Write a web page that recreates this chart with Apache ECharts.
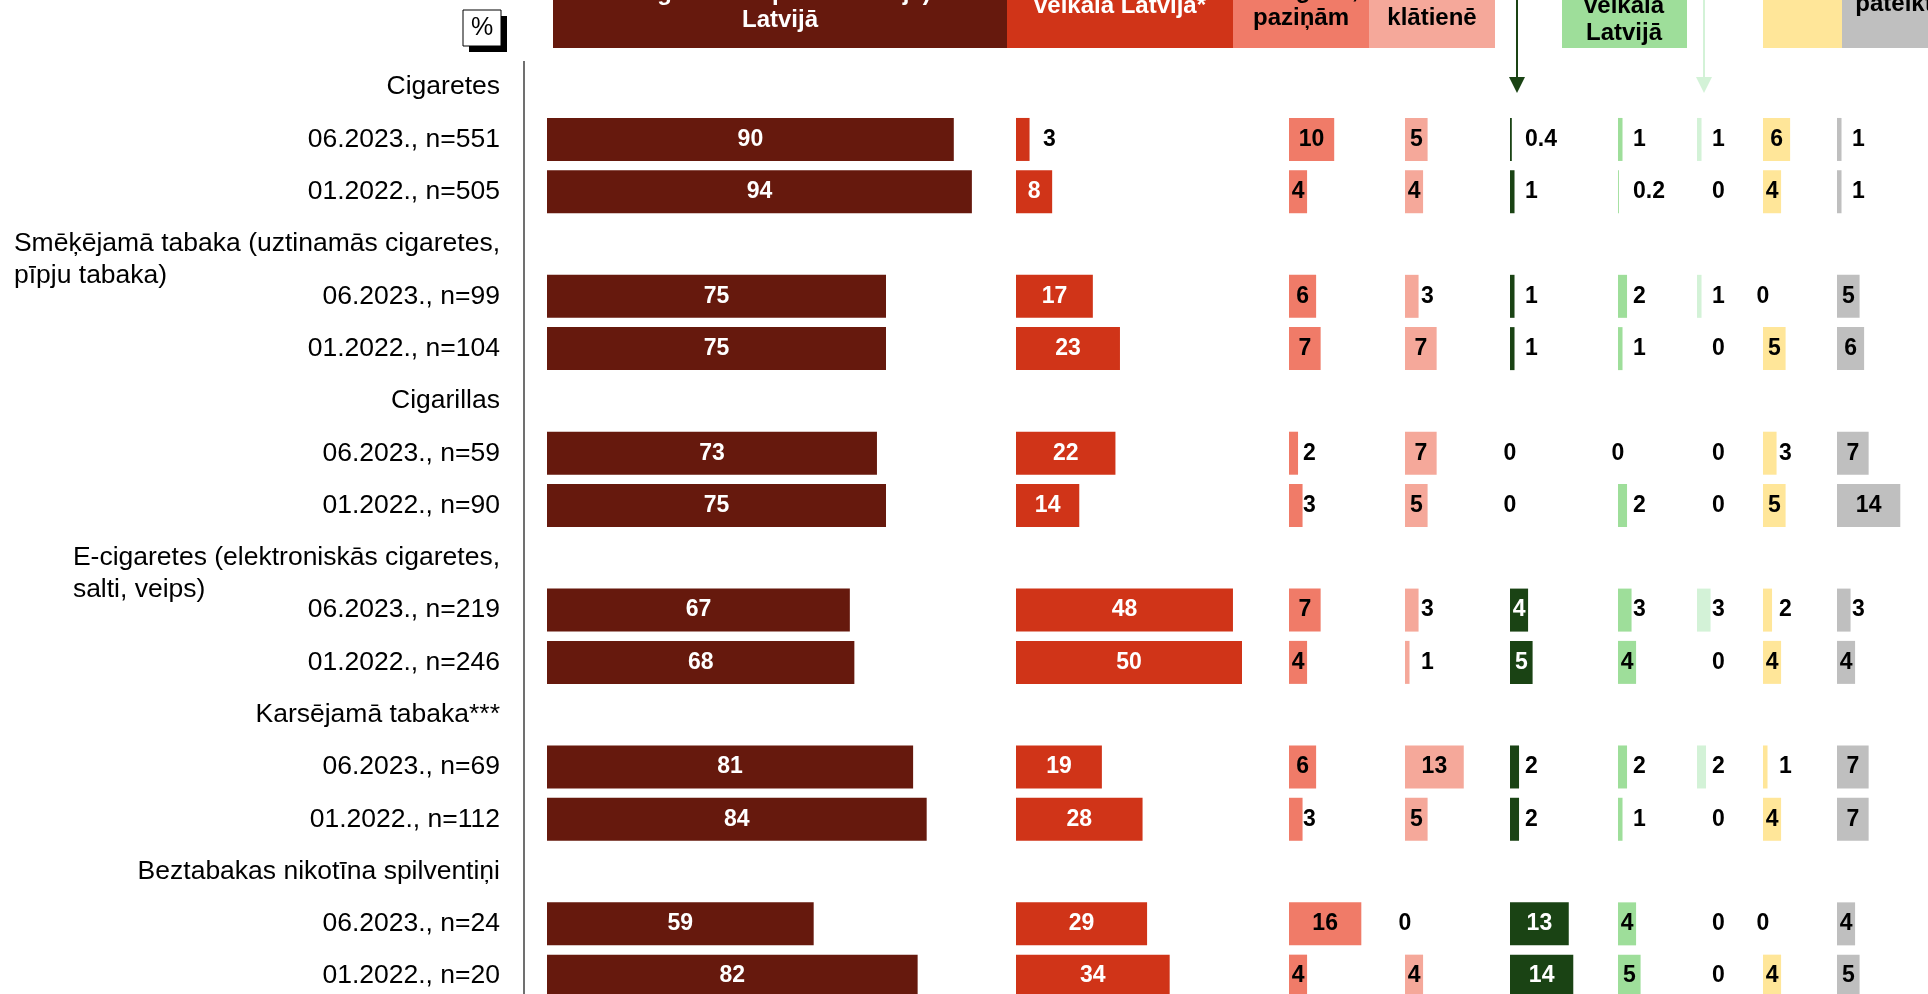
<!DOCTYPE html>
<html>
<head>
<meta charset="utf-8">
<script src="https://cdn.jsdelivr.net/npm/echarts@6/dist/echarts.min.js"></script>
<style>html,body{margin:0;padding:0;background:#fff;overflow:hidden}#c{width:1928px;height:1020px}</style>
</head>
<body>
<div id="c"></div>
<script>
// ---------- data ----------
const groups = [
  "Cigaretes",
  "Smēķējamā tabaka (uztinamās cigaretes,\npīpju tabaka)",
  "Cigarillas",
  "E-cigaretes (elektroniskās cigaretes,\nsalti, veips)",
  "Karsējamā tabaka***",
  "Beztabakas nikotīna spilventiņi"
];
const waves = [
  ["06.2023., n=551", "01.2022., n=505"],
  ["06.2023., n=99", "01.2022., n=104"],
  ["06.2023., n=59", "01.2022., n=90"],
  ["06.2023., n=219", "01.2022., n=246"],
  ["06.2023., n=69", "01.2022., n=112"],
  ["06.2023., n=24", "01.2022., n=20"]
];
const c1 = [90, 94, 75, 75, 73, 75, 67, 68, 81, 84, 59, 82];
const c2 = [3, 8, 17, 23, 22, 14, 48, 50, 19, 28, 29, 34];
const c3 = [10, 4, 6, 7, 2, 3, 7, 4, 6, 3, 16, 4];
const c4 = [5, 4, 3, 7, 7, 5, 3, 1, 13, 5, 0, 4];
const c5 = [0.4, 1, 1, 1, 0, 0, 4, 5, 2, 2, 13, 14];
const c6 = [1, 0.2, 2, 1, 0, 2, 3, 4, 2, 1, 4, 5];
const c7 = [1, 0, 1, 0, 0, 0, 3, 0, 2, 0, 0, 0];
const c8 = [6, 4, 0, 5, 3, 5, 2, 4, 1, 4, 0, 4];
const c9 = [1, 1, 5, 6, 7, 14, 3, 4, 7, 7, 4, 5];
const columns = [c1, c2, c3, c4, c5, c6, c7, c8, c9];

// ---------- layout / style ----------
const FONT = '"Liberation Sans", Arial, sans-serif';
const PX = 4.52;                 // pixels per percentage point
const colX = [547, 1016, 1289, 1405, 1510, 1618, 1697, 1763, 1837];
const colW = [469, 273, 116, 105, 108, 79, 66, 74, 91];
const colColor = ['#66190D', '#D03418', '#F07B68', '#F5A89A', '#1A4314', '#9EDE9A', '#D3F2D7', '#FFE699', '#BFBFBF'];
const insideColor = ['#fff', '#fff', '#000', '#000', '#fff', '#000', '#000', '#000', '#000'];
const outsideOffset = [27, 27, 14, 16, 15, 15, 15, 16, 15];
const zeroCentered = [true, true, true, true, true, true, false, true, true];
const GRID_TOP = 61, GRID_H = 941.3;

const cats = [];
groups.forEach((g, i) => { cats.push(g); cats.push(waves[i][0]); cats.push(waves[i][1]); });
const isHeader = cats.map((c, i) => i % 3 === 0);

function labelFor(ci, v) {
  const base = { show: true, fontFamily: FONT, fontWeight: 'bold', fontSize: 23 };
  if (v >= 4 || (v === 0 && zeroCentered[ci])) {
    return Object.assign(base, { position: 'inside', color: v === 0 ? '#000' : insideColor[ci] });
  }
  return Object.assign(base, { position: [outsideOffset[ci], '50%'], align: 'left', verticalAlign: 'middle', color: '#000' });
}

const grids = [], xAxes = [], yAxes = [], series = [];
columns.forEach((col, ci) => {
  grids.push({ left: colX[ci], top: GRID_TOP, width: colW[ci], height: GRID_H, containLabel: false });
  xAxes.push({ type: 'value', gridIndex: ci, min: 0, max: colW[ci] / PX, show: false });
  const y = { type: 'category', gridIndex: ci, data: cats, inverse: true, show: ci === 0 };
  if (ci === 0) {
    Object.assign(y, {
      axisLine: { show: false },
      axisTick: { show: false },
      splitLine: { show: false },
      axisLabel: {
        margin: 47, fontFamily: FONT, fontSize: 26.5, color: '#000', lineHeight: 32, align: 'right',
        formatter: (v) => v.indexOf('\n') >= 0
          ? '\n' + v.split('\n').map(s => '{g|' + s + '}').join('\n')
          : v,
        rich: { g: { align: 'left', fontFamily: FONT, fontSize: 26.5, color: '#000', lineHeight: 32 } }
      }
    });
  }
  yAxes.push(y);
  let k = 0;
  const data = cats.map((c, ri) => {
    if (isHeader[ri]) return '-';
    const v = col[k++];
    return { value: v, label: labelFor(ci, v) };
  });
  series.push({
    type: 'bar', xAxisIndex: ci, yAxisIndex: ci, barWidth: 43, data: data,
    itemStyle: { color: colColor[ci] }, silent: true
  });
});

// ---------- header decorations ----------
const hdr = (x, y, text, color) => ({
  type: 'text', x: x, y: y, silent: true,
  style: { text: text, fill: color, font: 'bold 24px ' + FONT, align: 'center', verticalAlign: 'middle', lineHeight: 27 }
});
const box = (x, w, color) => ({ type: 'rect', shape: { x: x, y: -60, width: w, height: 108 }, style: { fill: color }, silent: true });
const arrow = (x, color) => ([
  { type: 'line', shape: { x1: x, y1: 0, x2: x, y2: 80 }, style: { stroke: color, lineWidth: 2 }, silent: true },
  { type: 'polygon', shape: { points: [[x - 8, 77], [x + 8, 77], [x, 93]] }, style: { fill: color }, silent: true }
]);

const graphic = [
  box(553, 454, colColor[0]), box(1007, 226, colColor[1]), box(1233, 136, colColor[2]), box(1369, 126, colColor[3]),
  box(1562, 125, colColor[5]), box(1763, 79, colColor[7]), box(1842, 150, colColor[8]),
  hdr(780, 6.5, 'degvielas uzpildes stacijā)\nLatvijā', '#fff'),
  hdr(1120, 6, 'veikalā Latvijā*', '#fff'),
  hdr(1301, 4.5, 'draugiem,\npaziņām', '#000'),
  hdr(1432, 18, 'klātienē', '#000'),
  hdr(1624, 19.5, 'veikalā\nLatvijā', '#000'),
  hdr(1894, 4, 'pateikt', '#000'),
  ...arrow(1517, colColor[4]),
  ...arrow(1704, colColor[6]),
  { type: 'line', shape: { x1: 524, y1: 61, x2: 524, y2: 1020 }, style: { stroke: '#404040', lineWidth: 1.5 }, silent: true },
  { type: 'rect', shape: { x: 469, y: 16, width: 38, height: 36 }, style: { fill: '#000' }, silent: true },
  { type: 'rect', shape: { x: 463, y: 10, width: 38, height: 36 }, style: { fill: '#fff', stroke: '#000', lineWidth: 1 }, silent: true },
  { type: 'text', x: 482, y: 28, style: { text: '%', fill: '#000', font: '25px ' + FONT, align: 'center', verticalAlign: 'middle' }, silent: true }
];

const chart = echarts.init(document.getElementById('c'), null, { renderer: 'canvas' });
chart.setOption({
  animation: false,
  backgroundColor: '#fff',
  grid: grids, xAxis: xAxes, yAxis: yAxes, series: series,
  graphic: graphic
});
</script>
</body>
</html>
